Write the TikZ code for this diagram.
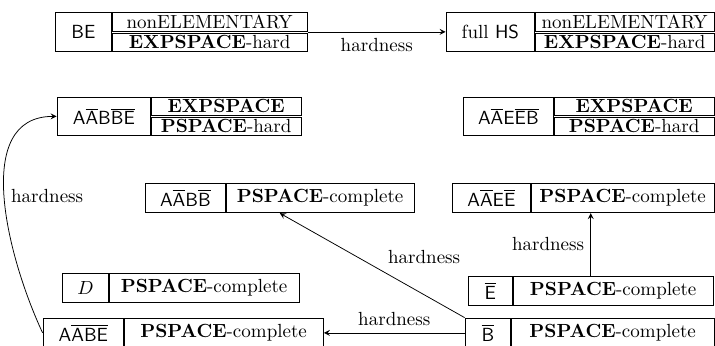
\documentclass[tikz,border=0pt]{standalone}
\usetikzlibrary{positioning, fit, arrows}
\newcommand{\pxu}{0.5263pt}
\newcommand{\frag}[1]{$\mathsf{#1}$}
\begin{document}
\begin{tikzpicture}[x=\pxu, y=-\pxu]
\tikzstyle{namecell} = [rectangle, draw=black, inner sep=0pt, anchor=north west, font=\sffamily]
\tikzstyle{rowcell} = [rectangle, draw=black, inner sep=0pt]
\tikzstyle{whole} = [inner sep=0pt]
\tikzstyle{arrow} = [->,>=stealth]

\useasboundingbox (0,0) rectangle (715,345);

%nodes, two-row boxes
\node (beL) [namecell, minimum width=56*\pxu, minimum height=39*\pxu] at (55,12) {BE};
\node (beU) [rowcell, right=0pt of beL.north east, anchor=north west, minimum width=195*\pxu, minimum height=18.5*\pxu] {nonELEMENTARY};
\node (beD) [rowcell, right=0pt of beL.south east, anchor=south west, minimum width=195*\pxu, minimum height=18.5*\pxu] {\textbf{EXPSPACE}-hard};
\node (be) [whole, fit=(beL)(beU)(beD)] {};

\node (hsL) [namecell, minimum width=88*\pxu, minimum height=39*\pxu] at (446,12) {\rmfamily full \textsf{HS}};
\node (hsU) [rowcell, right=0pt of hsL.north east, anchor=north west, minimum width=179*\pxu, minimum height=18.5*\pxu] {nonELEMENTARY};
\node (hsD) [rowcell, right=0pt of hsL.south east, anchor=south west, minimum width=179*\pxu, minimum height=18.5*\pxu] {\textbf{EXPSPACE}-hard};
\node (hs) [whole, fit=(hsL)(hsU)(hsD)] {};

\node (aabbbeL) [namecell, minimum width=93*\pxu, minimum height=38*\pxu] at (57,97) {\frag{A\overline{A}B\overline{B}\overline{E}}};
\node (aabbbeU) [rowcell, right=0pt of aabbbeL.north east, anchor=north west, minimum width=150*\pxu, minimum height=18*\pxu] {\textbf{EXPSPACE}};
\node (aabbbeD) [rowcell, right=0pt of aabbbeL.south east, anchor=south west, minimum width=150*\pxu, minimum height=18*\pxu] {\textbf{PSPACE}-hard};
\node (aabbbe) [whole, fit=(aabbbeL)(aabbbeU)(aabbbeD)] {};

\node (aaeebL) [namecell, minimum width=90*\pxu, minimum height=38*\pxu] at (463,97) {\frag{A\overline{A}E\overline{E}\overline{B}}};
\node (aaeebU) [rowcell, right=0pt of aaeebL.north east, anchor=north west, minimum width=160*\pxu, minimum height=18*\pxu] {\textbf{EXPSPACE}};
\node (aaeebD) [rowcell, right=0pt of aaeebL.south east, anchor=south west, minimum width=160*\pxu, minimum height=18*\pxu] {\textbf{PSPACE}-hard};
\node (aaeeb) [whole, fit=(aaeebL)(aaeebU)(aaeebD)] {};

%nodes, one-row boxes
\node (aabbL) [namecell, minimum width=80*\pxu, minimum height=29*\pxu] at (145,183) {\frag{A\overline{A}B\overline{B}}};
\node (aabbR) [rowcell, right=0pt of aabbL, minimum width=188*\pxu, minimum height=29*\pxu] {\textbf{PSPACE}-complete};
\node (aabb) [whole, fit=(aabbL)(aabbR)] {};

\node (aaeeL) [namecell, minimum width=78*\pxu, minimum height=29*\pxu] at (452,183) {\frag{A\overline{A}E\overline{E}}};
\node (aaeeR) [rowcell, right=0pt of aaeeL, minimum width=183*\pxu, minimum height=29*\pxu] {\textbf{PSPACE}-complete};
\node (aaee) [whole, fit=(aaeeL)(aaeeR)] {};

\node (dL) [namecell, minimum width=46*\pxu, minimum height=29*\pxu] at (62,273) {$D$};
\node (dR) [rowcell, right=0pt of dL, minimum width=190*\pxu, minimum height=29*\pxu] {\textbf{PSPACE}-complete};

\node (ebarL) [namecell, minimum width=44*\pxu, minimum height=29*\pxu] at (468,276) {\frag{\overline{E}}};
\node (ebarR) [rowcell, right=0pt of ebarL, minimum width=200*\pxu, minimum height=29*\pxu] {\textbf{PSPACE}-complete};
\node (ebar) [whole, fit=(ebarL)(ebarR)] {};

\node (aabeL) [namecell, minimum width=80*\pxu, minimum height=29*\pxu] at (43,318) {\frag{A\overline{A}\overline{B}\overline{E}}};
\node (aabeR) [rowcell, right=0pt of aabeL, minimum width=199*\pxu, minimum height=29*\pxu] {\textbf{PSPACE}-complete};
\node (aabe) [whole, fit=(aabeL)(aabeR)] {};

\node (bbarL) [namecell, minimum width=45*\pxu, minimum height=29*\pxu] at (465,318) {\frag{\overline{B}}};
\node (bbarR) [rowcell, right=0pt of bbarL, minimum width=203*\pxu, minimum height=29*\pxu] {\textbf{PSPACE}-complete};
\node (bbar) [whole, fit=(bbarL)(bbarR)] {};

%lines
\draw [arrow] (be.east) -- node[below] {hardness} (hs.west);
\draw [arrow] (ebar.north) -- node[left] {hardness} (ebar.north |- aaee.south);
\draw [arrow] (bbar.north west) -- node[above right, pos=0.45] {hardness} (aabb.south);
\draw [arrow] (bbar.west) -- node[above] {hardness} (aabe.east);
\draw [arrow] (aabe.west) to[out=115, in=180] node[right] {hardness} (aabbbe.west);

\end{tikzpicture}
\end{document}
